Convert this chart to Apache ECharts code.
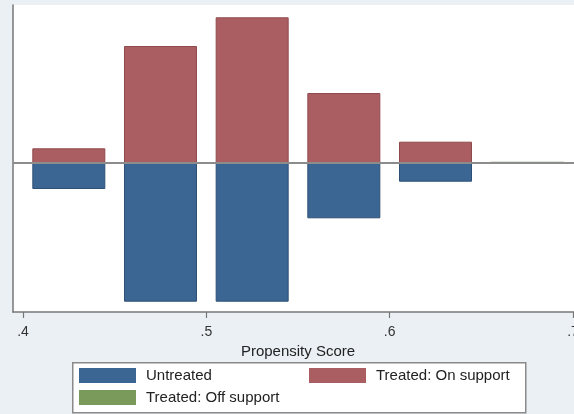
<!DOCTYPE html>
<html>
<head>
<meta charset="utf-8">
<script src="https://cdn.jsdelivr.net/npm/echarts@6/dist/echarts.min.js"></script>
<style>
html,body{margin:0;padding:0;background:#eaf0f4;}
#c{width:574px;height:414px;}
</style>
</head>
<body>
<div id="c"></div>
<script>
// Data (bar heights in arbitrary frequency units)
const binCenters = [0.425, 0.475, 0.525, 0.575, 0.625];
const treatedOn = [14.7, 117, 145.7, 70, 21.3];
const untreated = [26, 138.7, 138.7, 55.3, 18.7];
const offCenters = [0.675];
const treatedOff = [1.2];
const xTicks = [0.4, 0.5, 0.6, 0.7];

const FONT = 'Liberation Sans, Arial, sans-serif';
const chart = echarts.init(document.getElementById('c'));

const legendBase = {
  itemWidth: 57, itemHeight: 15, icon: 'rect',
  itemStyle: {borderWidth: 0},
  textStyle: {fontFamily: FONT, fontSize: 15, color: '#222', padding: [0, 0, 0, 5]},
  selectedMode: false, padding: 0
};

chart.setOption({
  backgroundColor: '#eaf0f4',
  animation: false,
  grid: {left: 13, right: -9, top: 5, bottom: 102, show: true, backgroundColor: '#ffffff', borderWidth: 0,
    outerBoundsMode: 'none', containLabel: false},
  graphic: [{
    type: 'rect', left: 72, top: 362, z: -1,
    shape: {width: 453, height: 50},
    style: {fill: '#ffffff', stroke: '#8a8a8a', lineWidth: 1.5}
  }],
  legend: [
    Object.assign({}, legendBase, {left: 79, top: 368, data: ['Untreated']}),
    Object.assign({}, legendBase, {left: 309, top: 368, data: ['Treated: On support']}),
    Object.assign({}, legendBase, {left: 79, top: 390, data: ['Treated: Off support']})
  ],
  xAxis: {
    type: 'value', min: 0.39455, max: 0.70545,
    name: 'Propensity Score', nameLocation: 'middle', nameGap: 26,
    nameTextStyle: {fontFamily: FONT, fontSize: 15, color: '#222'},
    axisLine: {show: true, onZero: false, lineStyle: {color: '#777', width: 1.5}},
    axisTick: {show: true, customValues: xTicks, length: 6, lineStyle: {color: '#777', width: 1.2}},
    axisLabel: {show: true, customValues: xTicks, margin: 13, fontFamily: FONT, fontSize: 14, color: '#333',
      formatter: v => String(v).replace(/^0/, '')},
    splitLine: {show: false}
  },
  yAxis: {
    type: 'value', min: -149, max: 158,
    axisLine: {show: true, lineStyle: {color: '#777', width: 1.5}},
    axisTick: {show: false}, axisLabel: {show: false}, splitLine: {show: false}
  },
  series: [
    {
      name: 'Untreated', type: 'bar', barWidth: 73, barGap: '-100%',
      data: binCenters.map((c, i) => [c, -untreated[i]]),
      itemStyle: {color: '#3b6592', borderColor: '#2e5075', borderWidth: 1}
    },
    {
      name: 'Treated: On support', type: 'bar', barWidth: 73, barGap: '-100%',
      data: binCenters.map((c, i) => [c, treatedOn[i]]),
      itemStyle: {color: '#ab5e62', borderColor: '#8f4a4e', borderWidth: 1}
    },
    {
      name: 'Treated: Off support', type: 'bar', barWidth: 73, barGap: '-100%',
      data: offCenters.map((c, i) => [c, treatedOff[i]]),
      itemStyle: {color: '#7a9a5b', borderWidth: 0},
      markLine: {
        silent: true, symbol: 'none', label: {show: false},
        lineStyle: {color: '#8c8c8c', width: 2, type: 'solid'},
        data: [{yAxis: 0}]
      }
    }
  ]
});
</script>
</body>
</html>
